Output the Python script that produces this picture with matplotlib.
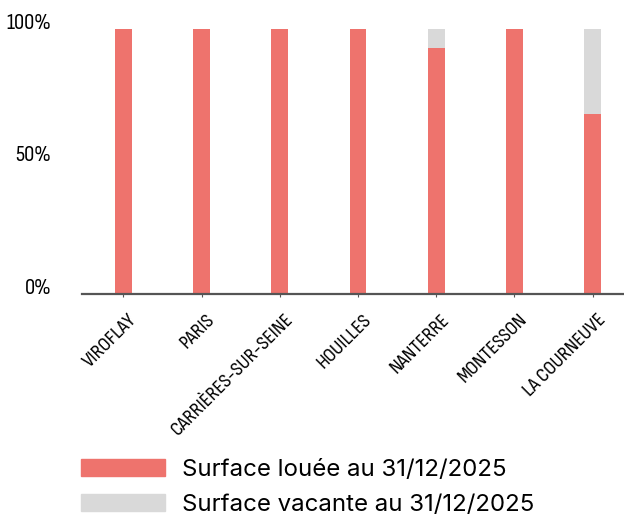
import matplotlib
matplotlib.use('Agg')
import matplotlib.pyplot as plt
import matplotlib.transforms as mtransforms
import numpy as np
from matplotlib.patches import Patch

sites = ["VIROFLAY", "PARIS", "CARRIÈRES-SUR-SEINE", "HOUILLES",
         "NANTERRE", "MONTESSON", "LA COURNEUVE"]
loue = [100, 100, 100, 100, 93, 100, 68]
vacant = [0, 0, 0, 0, 7, 0, 32]
y_ticks = [0, 50, 100]
y_labels = ["0%", "50%", "100%"]
legend_labels = ["Surface louée au 31/12/2025", "Surface vacante au 31/12/2025"]

RED = "#EE736D"
GREY = "#D9D9D9"
narrow = ["Sofia Sans Condensed", "DejaVu Sans"]

fig = plt.figure(figsize=(6.24, 5.16), dpi=100)
ax = fig.add_axes([0.1314, 0.4312, 0.8686, 0.5126])

x = np.arange(len(sites))
ax.bar(x, loue, width=0.213, color=RED, zorder=2)
ax.bar(x, vacant, width=0.213, bottom=loue, color=GREY, zorder=2)

ax.set_xlim(-0.528, 6.40)
ax.set_ylim(0, 100)

for s in ["top", "right", "left"]:
    ax.spines[s].set_visible(False)
ax.spines["bottom"].set_color("#555555")
ax.spines["bottom"].set_linewidth(1.6)
ax.spines["bottom"].set_zorder(3)

ax.set_yticks(y_ticks)
ax.set_yticklabels(y_labels, family=narrow, fontsize=16.5, color="#000000")
ax.tick_params(axis="y", length=0, pad=22)
for lbl in ax.get_yticklabels():
    lbl.set_va("baseline")

ax.set_xticks(x)
ax.set_xticklabels(sites, family=narrow, fontsize=15, color="#000000",
                   rotation=45, ha="right", va="top", rotation_mode="anchor")
ax.tick_params(axis="x", length=2, color="#555555", pad=10)
# nudge the slanted labels a little to the right of their ticks
shift = mtransforms.ScaledTranslation(4 / 100, 0, fig.dpi_scale_trans)
for lbl in ax.get_xticklabels():
    lbl.set_transform(lbl.get_transform() + shift)

handles = [Patch(color=RED), Patch(color=GREY)]
fig.legend(handles, legend_labels, loc="upper left",
           bbox_to_anchor=(0.115, 0.13), frameon=False,
           prop={"family": "Inter", "size": 17.3},
           handlelength=3.5, handleheight=0.72, handletextpad=0.7,
           labelspacing=0.55, borderaxespad=0)

fig.savefig("out.png", dpi=100)
